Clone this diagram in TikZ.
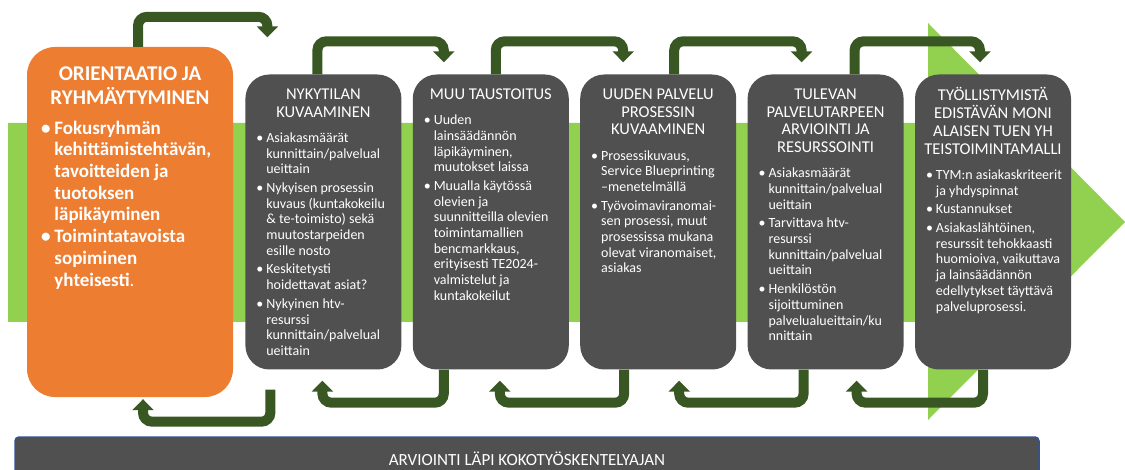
\documentclass[tikz,border=0pt]{standalone}
\usepackage{fontspec}
\setmainfont{Carlito}
\usetikzlibrary{positioning,arrows.meta}
\definecolor{FlowOrange}{RGB}{237,125,49}
\definecolor{FlowGrey}{RGB}{80,80,80}
\definecolor{FlowLime}{RGB}{146,208,80}
\definecolor{FlowForest}{RGB}{56,87,35}
\definecolor{FlowBlue}{RGB}{47,85,151}
\tikzset{
  flow box/.style={
    rounded corners=24pt,
    text=white,
    align=left,
    inner ysep=12.5pt
  },
  flow panel/.style={flow box, fill=FlowGrey, minimum width=156pt, minimum height=295pt, inner xsep=11pt},
  flow start/.style={flow box, fill=FlowOrange, minimum width=206pt, minimum height=350pt, inner xsep=14pt, inner ysep=17pt, rounded corners=28pt},
  flow bar/.style={fill=FlowGrey, draw=FlowBlue, line width=1.5pt, rounded corners=4pt, text=white,
    minimum width=1024pt, minimum height=43pt, font=\fontsize{17}{20}\selectfont},
  flow turn/.style={FlowForest, line width=10pt, rounded corners=9pt, -{Triangle[width=21pt,length=11pt]}}
}
% title lines + bullet lines of one grey panel
\newcommand{\paneltext}[2]{%
  \parbox[t][270pt][t]{134pt}{%
    \makebox[\linewidth][c]{\fontsize{16.5}{17.7}\selectfont
      \begin{tabular}{@{}c@{}}#1\end{tabular}}\par
    \vspace{8pt}%
    \fontsize{14}{15.7}\selectfont
    \begin{tabular}{@{}l@{\hspace{3pt}}l@{}}#2\end{tabular}}}
\newcommand{\starttext}[2]{%
  \parbox[t][316pt][t]{178pt}{\bfseries
    \makebox[\linewidth][c]{\fontsize{21}{23}\selectfont
      \begin{tabular}{@{}c@{}}#1\end{tabular}}\par
    \vspace{7pt}%
    \fontsize{19}{21.7}\selectfont
    \begin{tabular}{@{}l@{\hspace{4pt}}l@{}}#2\end{tabular}}}

\begin{document}
\begin{tikzpicture}[x=1pt, y=1pt, node distance=11pt]
\useasboundingbox (0,0) rectangle (1125,469);
% big arrow behind the phases
\fill[FlowLime] (8,147) -- (928,147) -- (928,49) -- (1125,247) -- (928,446) -- (928,346) -- (8,346) -- cycle;

\node[flow start] (orient) at (130,247) {\starttext{ORIENTAATIO JA\\RYHMÄYTYMINEN}{%
  • & Fokusryhmän\\ & kehittämistehtävän,\\ & tavoitteiden ja\\ & tuotoksen\\ & läpikäyminen\\
  • & Toimintatavoista\\ & sopiminen\\ & yhteisesti{\mdseries.}}};
\node[flow panel, right=12pt of orient] (nyky) {\paneltext{NYKYTILAN\\KUVAAMINEN}{%
  • & Asiakasmäärät\\ & kunnittain/palvelual\\ & ueittain\\[3pt]
  • & Nykyisen prosessin\\ & kuvaus (kuntakokeilu\\ & \& te-toimisto) sekä\\ & muutostarpeiden\\ & esille nosto\\[3pt]
  • & Keskitetysti\\ & hoidettavat asiat?\\[3pt]
  • & Nykyinen htv-\\ & resurssi\\ & kunnittain/palvelual\\ & ueittain}};
\node[flow panel, right=of nyky] (muu) {\paneltext{MUU TAUSTOITUS}{%
  • & Uuden\\ & lainsäädännön\\ & läpikäyminen,\\ & muutokset laissa\\[3pt]
  • & Muualla käytössä\\ & olevien ja\\ & suunnitteilla olevien\\ & toimintamallien\\ & bencmarkkaus,\\ & erityisesti TE2024-\\ & valmistelut ja\\ & kuntakokeilut}};
\node[flow panel, right=of muu] (uusi) {\paneltext{UUDEN PALVELU\\PROSESSIN\\KUVAAMINEN}{%
  • & Prosessikuvaus,\\ & Service Blueprinting\\ & –menetelmällä\\[3pt]
  • & Työvoimaviranomai-\\ & sen prosessi, muut\\ & prosessissa mukana\\ & olevat viranomaiset,\\ & asiakas}};
\node[flow panel, right=of uusi] (tuleva) {\paneltext{TULEVAN\\PALVELUTARPEEN\\ARVIOINTI JA\\RESURSSOINTI}{%
  • & Asiakasmäärät\\ & kunnittain/palvelual\\ & ueittain\\[3pt]
  • & Tarvittava htv-\\ & resurssi\\ & kunnittain/palvelual\\ & ueittain\\[3pt]
  • & Henkilöstön\\ & sijoittuminen\\ & palvelualueittain/ku\\ & nnittain}};
\node[flow panel, right=of tuleva] (tyo) {\paneltext{TYÖLLISTYMISTÄ\\EDISTÄVÄN MONI\\ALAISEN TUEN YH\\TEISTOIMINTAMALLI}{%
  • & TYM:n asiakaskriteerit\\ & ja yhdyspinnat\\[3pt]
  • & Kustannukset\\[3pt]
  • & Asiakaslähtöinen,\\ & resurssit tehokkaasti\\ & huomioiva, vaikuttava\\ & ja lainsäädännön\\ & edellytykset täyttävä\\ & palveluprosessi.}};
\node[flow bar] (arvio) at (527,10.5) {ARVIOINTI LÄPI KOKOTYÖSKENTELYAJAN};

% forward turns over the top
\draw[flow turn] ([xshift=8pt]orient.north) -- ++(0,30) -| ([xshift=-56pt,yshift=37pt]nyky.north);
\draw[flow turn] ([xshift=-6pt]nyky.north) -- ++(0,33) -| ([xshift=-47pt,yshift=12pt]muu.north);
\draw[flow turn] ([xshift=5pt]muu.north) -- ++(0,33) -| ([xshift=-35pt,yshift=12pt]uusi.north);
\draw[flow turn] ([xshift=16pt]uusi.north) -- ++(0,33) -| ([xshift=-24pt,yshift=12pt]tuleva.north);
\draw[flow turn] ([xshift=29pt]tuleva.north) -- ++(0,33) -| ([xshift=-13pt,yshift=12pt]tyo.north);
% feedback turns underneath
\draw[flow turn] ([xshift=-53pt,yshift=-20pt]nyky.south) -- ++(0,-32) -| ([xshift=13pt,yshift=-2pt]orient.south);
\draw[flow turn] ([xshift=-47pt]muu.south) -- ++(0,-33) -| ([xshift=-1pt,yshift=-11pt]nyky.south);
\draw[flow turn] ([xshift=-34pt]uusi.south) -- ++(0,-33) -| ([xshift=9pt,yshift=-11pt]muu.south);
\draw[flow turn] ([xshift=-22pt]tuleva.south) -- ++(0,-33) -| ([xshift=21pt,yshift=-11pt]uusi.south);
\draw[flow turn] ([xshift=-10pt]tyo.south) -- ++(0,-33) -| ([xshift=31pt,yshift=-11pt]tuleva.south);
\end{tikzpicture}
\end{document}
